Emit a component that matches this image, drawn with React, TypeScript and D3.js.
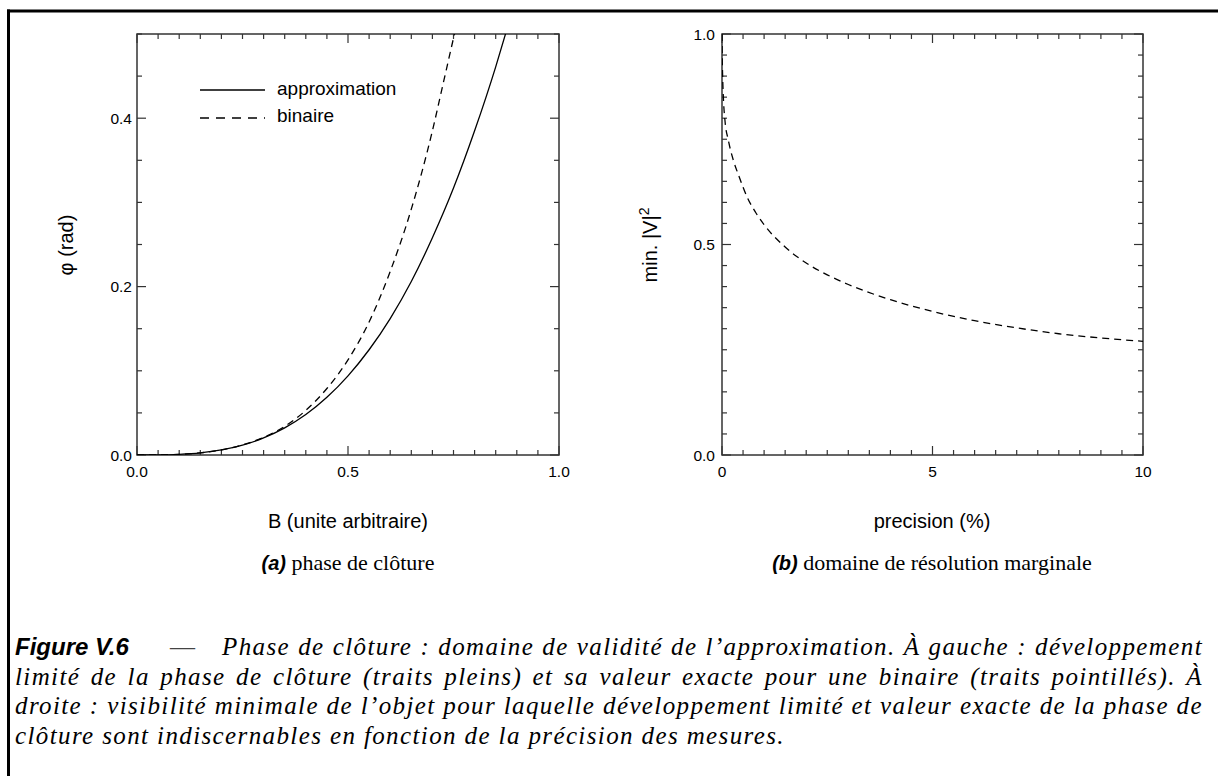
import React, { useEffect, useRef } from "react";
import * as d3 from "d3";

// ---------- data ----------
const approxB = [0, 0.05, 0.1, 0.15, 0.2, 0.25, 0.3, 0.35, 0.4, 0.45, 0.5, 0.55, 0.6, 0.65, 0.7, 0.75, 0.8, 0.85, 0.875];
const approxPhi = [0, 0.0001, 0.0008, 0.0025, 0.006, 0.0117, 0.0203, 0.0322, 0.048, 0.0685, 0.094, 0.125, 0.162, 0.206, 0.258, 0.317, 0.385, 0.461, 0.503];
const binaryB = [0, 0.05, 0.1, 0.15, 0.2, 0.25, 0.3, 0.35, 0.4, 0.45, 0.5, 0.55, 0.6, 0.65, 0.7, 0.725, 0.75, 0.757];
const binaryPhi = [0, 0.0001, 0.0008, 0.0025, 0.006, 0.012, 0.021, 0.034, 0.053, 0.079, 0.113, 0.158, 0.218, 0.292, 0.385, 0.44, 0.495, 0.51];
const precision = [0, 0.005, 0.015, 0.03, 0.07, 0.15, 0.27, 0.4, 0.6, 0.8, 1, 1.5, 2, 2.5, 3, 4, 5, 6, 7, 8, 9, 10];
const minVisibility = [1.0, 0.95, 0.9, 0.855, 0.795, 0.748, 0.7, 0.663, 0.612, 0.576, 0.547, 0.494, 0.456, 0.428, 0.405, 0.369, 0.341, 0.319, 0.302, 0.288, 0.278, 0.27];

const leftXMajor = [0, 0.5, 1.0];
const leftXLabels = ["0.0", "0.5", "1.0"];
const leftYMajor = [0, 0.2, 0.4];
const leftYLabels = ["0.0", "0.2", "0.4"];
const rightXMajor = [0, 5, 10];
const rightXLabels = ["0", "5", "10"];
const rightYMajor = [0, 0.5, 1.0];
const rightYLabels = ["0.0", "0.5", "1.0"];

const legendLabels = ["approximation", "binaire"];

const captionLines = [
  "Phase de clôture : domaine de validité de l’approximation. À gauche : développement",
  "limité de la phase de clôture (traits pleins) et sa valeur exacte pour une binaire (traits pointillés). À",
  "droite : visibilité minimale de l’objet pour laquelle développement limité et valeur exacte de la phase de",
  "clôture sont indiscernables en fonction de la précision des mesures.",
];

const SANS = "'Liberation Sans', Arial, Helvetica, sans-serif";
const SERIF = "'Liberation Serif', 'Times New Roman', serif";
const AXIS = "#333";

export default function App() {
  const ref = useRef<SVGSVGElement | null>(null);

  useEffect(() => {
    const svg = d3.select(ref.current);
    svg.selectAll("*").remove();

    // outer frame (left and top edges visible)
    svg.append("line").attr("x1", 8.5).attr("x2", 8.5).attr("y1", 9.5).attr("y2", 776).attr("stroke", "#000").attr("stroke-width", 3);
    svg.append("line").attr("x1", 7).attr("x2", 1218).attr("y1", 11).attr("y2", 11).attr("stroke", "#000").attr("stroke-width", 3);

    function panel(
      x: d3.ScaleLinear<number, number>,
      y: d3.ScaleLinear<number, number>,
      xMinor: number[], xMajor: number[], xLabels: string[],
      yMinor: number[], yMajor: number[], yLabels: string[],
      yLabelGap: number
    ) {
      const g = svg.append("g");
      const [x0, x1] = x.range();
      const [y0, y1] = y.range(); // y0 bottom, y1 top
      const minorLen = 5, majorLen = 9;
      const isMajor = (v: number, arr: number[]) => arr.some((m) => Math.abs(m - v) < 1e-9);
      xMinor.forEach((v) => {
        const L = isMajor(v, xMajor) ? majorLen : minorLen;
        const px = x(v);
        g.append("line").attr("x1", px).attr("x2", px).attr("y1", y0).attr("y2", y0 - L).attr("stroke", AXIS).attr("stroke-width", 1.2);
        g.append("line").attr("x1", px).attr("x2", px).attr("y1", y1).attr("y2", y1 + L).attr("stroke", AXIS).attr("stroke-width", 1.2);
      });
      yMinor.forEach((v) => {
        const L = isMajor(v, yMajor) ? majorLen : minorLen;
        const py = y(v);
        g.append("line").attr("x1", x0).attr("x2", x0 + L).attr("y1", py).attr("y2", py).attr("stroke", AXIS).attr("stroke-width", 1.2);
        g.append("line").attr("x1", x1).attr("x2", x1 - L).attr("y1", py).attr("y2", py).attr("stroke", AXIS).attr("stroke-width", 1.2);
      });
      g.append("rect").attr("x", x0).attr("y", y1).attr("width", x1 - x0).attr("height", y0 - y1)
        .attr("fill", "none").attr("stroke", AXIS).attr("stroke-width", 1.5);
      xMajor.forEach((v, i) => {
        g.append("text").attr("x", x(v)).attr("y", y0 + 22).attr("text-anchor", "middle")
          .attr("font-family", SANS).attr("font-size", 15.5).text(xLabels[i]);
      });
      yMajor.forEach((v, i) => {
        g.append("text").attr("x", x0 - yLabelGap).attr("y", y(v) + 5.5).attr("text-anchor", "end")
          .attr("font-family", SANS).attr("font-size", 15.5).text(yLabels[i]);
      });
      return g;
    }

    // ---------- left panel ----------
    const xL = d3.scaleLinear().domain([0, 1]).range([137, 559]);
    const yL = d3.scaleLinear().domain([0, 0.5]).range([455, 34]);
    panel(xL, yL, d3.range(0, 1.0001, 0.05), leftXMajor, leftXLabels, d3.range(0, 0.50001, 0.05), leftYMajor, leftYLabels, 5);

    svg.append("clipPath").attr("id", "clipL").append("rect").attr("x", 137).attr("y", 34).attr("width", 422).attr("height", 421);
    svg.append("clipPath").attr("id", "clipR").append("rect").attr("x", 722).attr("y", 34).attr("width", 421).attr("height", 421);

    const lineL = d3.line<[number, number]>().x((d) => xL(d[0])).y((d) => yL(d[1])).curve(d3.curveMonotoneX);
    svg.append("path").attr("clip-path", "url(#clipL)")
      .attr("d", lineL(approxB.map((b, i) => [b, approxPhi[i]]) as [number, number][]))
      .attr("fill", "none").attr("stroke", "#000").attr("stroke-width", 1.3);
    svg.append("path").attr("clip-path", "url(#clipL)")
      .attr("d", lineL(binaryB.map((b, i) => [b, binaryPhi[i]]) as [number, number][]))
      .attr("fill", "none").attr("stroke", "#000").attr("stroke-width", 1.3).attr("stroke-dasharray", "7,5");

    // legend
    svg.append("line").attr("x1", 200).attr("x2", 265).attr("y1", 90).attr("y2", 90).attr("stroke", "#000").attr("stroke-width", 1.3);
    svg.append("line").attr("x1", 200).attr("x2", 265).attr("y1", 118).attr("y2", 118).attr("stroke", "#000").attr("stroke-width", 1.3).attr("stroke-dasharray", "9,7");
    svg.append("text").attr("x", 277).attr("y", 95).attr("font-family", SANS).attr("font-size", 19).text(legendLabels[0]);
    svg.append("text").attr("x", 277).attr("y", 122).attr("font-family", SANS).attr("font-size", 19).text(legendLabels[1]);

    // axis titles
    svg.append("text").attr("transform", "translate(73,245) rotate(-90)").attr("text-anchor", "middle")
      .attr("font-family", SANS).attr("font-size", 20).text("φ (rad)");
    svg.append("text").attr("x", 348).attr("y", 528).attr("text-anchor", "middle")
      .attr("font-family", SANS).attr("font-size", 20).text("B (unite arbitraire)");

    // ---------- right panel ----------
    const xR = d3.scaleLinear().domain([0, 10]).range([722, 1143]);
    const yR = d3.scaleLinear().domain([0, 1]).range([455, 34]);
    panel(xR, yR, d3.range(0, 10.0001, 0.5), rightXMajor, rightXLabels, d3.range(0, 1.00001, 0.05), rightYMajor, rightYLabels, 7);
    const lineR = d3.line<[number, number]>().x((d) => xR(d[0])).y((d) => yR(d[1])).curve(d3.curveMonotoneX);
    svg.append("path").attr("clip-path", "url(#clipR)")
      .attr("d", lineR(precision.map((p, i) => [p, minVisibility[i]]) as [number, number][]))
      .attr("fill", "none").attr("stroke", "#000").attr("stroke-width", 1.3).attr("stroke-dasharray", "7,5");

    const vt = svg.append("text").attr("transform", "translate(657,245) rotate(-90)").attr("text-anchor", "middle")
      .attr("font-family", SANS).attr("font-size", 20);
    vt.append("tspan").text("min. |V|");
    vt.append("tspan").attr("font-size", 14).attr("dy", -8).text("2");
    svg.append("text").attr("x", 932).attr("y", 528).attr("text-anchor", "middle")
      .attr("font-family", SANS).attr("font-size", 20).text("precision (%)");

    // ---------- sub-captions ----------
    function subcap(cx: number, label: string, rest: string) {
      const t = svg.append("text").attr("x", cx).attr("y", 570).attr("text-anchor", "middle");
      t.append("tspan").attr("font-family", SANS).attr("font-weight", "bold").attr("font-style", "italic").attr("font-size", 20).text(label);
      t.append("tspan").attr("font-family", SERIF).attr("font-size", 22).text(" " + rest);
    }
    subcap(348, "(a)", "phase de clôture");
    subcap(932, "(b)", "domaine de résolution marginale");

    // ---------- figure caption ----------
    const capSize = 25;
    svg.append("text").attr("x", 15).attr("y", 655).attr("font-family", SANS).attr("font-weight", "bold")
      .attr("font-style", "italic").attr("font-size", 24).text("Figure V.6");
    svg.append("text").attr("x", 170).attr("y", 655).attr("font-family", SERIF).attr("font-size", capSize)
      .attr("fill", "#444").text("—");

    // letter spacing chosen so the last (natural) line has the reference length
    const probe = svg.append("text").attr("font-family", SERIF).attr("font-style", "italic")
      .attr("font-size", capSize).text(captionLines[3]);
    const w0 = (probe.node() as SVGTextElement).getComputedTextLength();
    probe.remove();
    const targetLast = 770;
    const ls = (targetLast - w0) / captionLines[3].length;

    function justify(line: string, xa: number, xb: number, y: number, stretch: boolean) {
      const words = line.split(" ");
      const nodes = words.map((w) =>
        svg.append("text").attr("y", y).attr("font-family", SERIF).attr("font-style", "italic")
          .attr("font-size", capSize).text(w)
      );
      const widths = nodes.map((n, i) => (n.node() as SVGTextElement).getComputedTextLength() + ls * words[i].length);
      nodes.forEach((n) => n.attr("letter-spacing", ls));
      const total = widths.reduce((a, b) => a + b, 0);
      const gap = stretch && words.length > 1 ? (xb - xa - total) / (words.length - 1) : (targetLast - total) / (words.length - 1);
      let cx = xa;
      nodes.forEach((n, i) => {
        n.attr("x", cx);
        cx += widths[i] + gap;
      });
    }
    const baselines = [655, 685, 714, 744];
    justify(captionLines[0], 222, 1203, baselines[0], true);
    justify(captionLines[1], 15, 1203, baselines[1], true);
    justify(captionLines[2], 15, 1203, baselines[2], true);
    justify(captionLines[3], 15, 1203, baselines[3], false);
  }, []);

  return (
    <svg
      ref={ref}
      width={1218}
      height={776}
      style={{ position: "absolute", left: 0, top: 0, background: "#fff" }}
    />
  );
}
